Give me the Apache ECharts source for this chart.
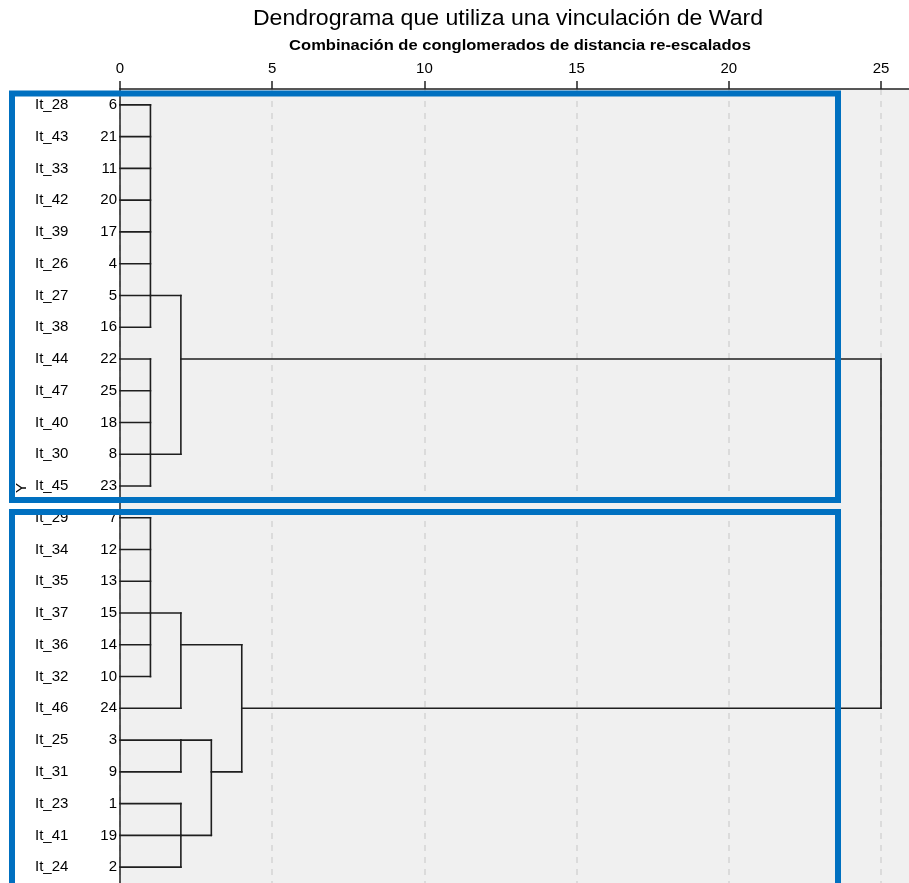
<!DOCTYPE html>
<html>
<head>
<meta charset="utf-8">
<script src="https://cdn.jsdelivr.net/npm/echarts@6/dist/echarts.min.js"></script>
<style>
  html, body { margin: 0; padding: 0; background: #fff; }
  #main { width: 909px; height: 883px; }
</style>
</head>
<body>
<div id="main"></div>
<script>
// casos en el orden del dendrograma
var items = ['It_28', 'It_43', 'It_33', 'It_42', 'It_39', 'It_26', 'It_27', 'It_38', 'It_44', 'It_47', 'It_40', 'It_30', 'It_45',
  'It_29', 'It_34', 'It_35', 'It_37', 'It_36', 'It_32', 'It_46', 'It_25', 'It_31', 'It_23', 'It_41', 'It_24'];
var caseNums = [6, 21, 11, 20, 17, 4, 5, 16, 22, 25, 18, 8, 23, 7, 12, 13, 15, 14, 10, 24, 3, 9, 1, 19, 2];

// conglomerados: distancia re-escalada, fila de salida e hijos (numero = fila, texto = conglomerado)
var nodeNames = ['A', 'B', 'AB', 'C', 'C24', 'D', 'E', 'DE', 'CDE', 'ROOT'];
var nodeHeights = [1, 1, 2, 1, 2, 2, 2, 3, 4, 25];
var nodeRows = [6, 11, 8, 16, 17, 20, 23, 21, 19, null];
var nodeChildren = [
  [0, 1, 2, 3, 4, 5, 6, 7],
  [8, 9, 10, 11, 12],
  ['A', 'B'],
  [13, 14, 15, 16, 17, 18],
  ['C', 19],
  [20, 21],
  [22, 23, 24],
  ['D', 'E'],
  ['C24', 'DE'],
  ['AB', 'CDE']
];
var xTicks = [0, 5, 10, 15, 20, 25];

// segmentos [x1, y1, x2, y2]
var segments = [];
nodeNames.forEach(function (name, i) {
  var h = nodeHeights[i];
  var rows = [];
  nodeChildren[i].forEach(function (c) {
    var ch, cr;
    if (typeof c === 'number') { ch = 0; cr = c; }
    else { var k = nodeNames.indexOf(c); ch = nodeHeights[k]; cr = nodeRows[k]; }
    rows.push(cr);
    segments.push([ch, cr, h, cr]);
  });
  segments.push([h, Math.min.apply(null, rows), h, Math.max.apply(null, rows)]);
});

var font = 'Liberation Sans, Arial, sans-serif';
var chart = echarts.init(document.getElementById('main'));

var option = {
  animation: false,
  backgroundColor: '#ffffff',
  grid: { left: 120, right: 0, top: 89, bottom: -3, show: true, backgroundColor: '#f0f0f0', borderWidth: 0 },
  xAxis: {
    type: 'value',
    position: 'top',
    min: 0,
    max: 25.92,
    interval: 5,
    axisLine: { show: true, lineStyle: { color: '#222', width: 1.5 } },
    axisTick: { show: true, inside: false, length: 8, customValues: xTicks, lineStyle: { color: '#222', width: 1.5 } },
    axisLabel: { customValues: xTicks, margin: 13, fontSize: 15, color: '#000', fontFamily: font },
    splitLine: { show: true, lineStyle: { color: '#d4d4d4', width: 1.5, type: [6, 6] } }
  },
  yAxis: {
    type: 'category',
    inverse: true,
    data: items,
    axisLine: { show: true, lineStyle: { color: '#222', width: 1.5 } },
    axisTick: { show: false },
    splitLine: { show: false },
    axisLabel: {
      margin: 3,
      align: 'right',
      formatter: function (v, idx) { return '{a|' + v + '}{b|' + caseNums[idx] + '}'; },
      rich: {
        a: { width: 48, align: 'left', fontSize: 15, color: '#000', fontFamily: font },
        b: { width: 34, align: 'right', fontSize: 15, color: '#000', fontFamily: font }
      }
    }
  },
  series: [{
    type: 'custom',
    data: segments,
    encode: { x: [0, 2], y: [1, 3] },
    renderItem: function (params, api) {
      var p1 = api.coord([api.value(0), api.value(1)]);
      var p2 = api.coord([api.value(2), api.value(3)]);
      return {
        type: 'line',
        shape: { x1: p1[0], y1: p1[1], x2: p2[0], y2: p2[1] },
        style: { stroke: '#1e1e1e', lineWidth: 1.6, lineCap: 'square' }
      };
    }
  }],
  graphic: [
    {
      type: 'text', x: 508, y: 19, scaleX: 1.05,
      style: { text: 'Dendrograma que utiliza una vinculación de Ward', fontSize: 22, fill: '#000', align: 'center', verticalAlign: 'middle', fontFamily: font }
    },
    {
      type: 'text', x: 520, y: 46, scaleX: 1.18,
      style: { text: 'Combinación de conglomerados de distancia re-escalados', fontSize: 14, fontWeight: 'bold', fill: '#000', align: 'center', verticalAlign: 'middle', fontFamily: font }
    },
    {
      type: 'text', x: 22, y: 488, rotation: Math.PI / 2,
      style: { text: 'Y', fontSize: 15, fill: '#000', align: 'center', verticalAlign: 'middle', fontFamily: font }
    },
    {
      type: 'rect', z: 100,
      shape: { x: 12, y: 93.5, width: 826, height: 406.5 },
      style: { fill: 'none', stroke: '#0070c0', lineWidth: 6 }
    },
    {
      type: 'rect', z: 100,
      shape: { x: 12, y: 512, width: 826, height: 400 },
      style: { fill: 'none', stroke: '#0070c0', lineWidth: 6 }
    }
  ]
};

option && chart.setOption(option);
</script>
</body>
</html>
